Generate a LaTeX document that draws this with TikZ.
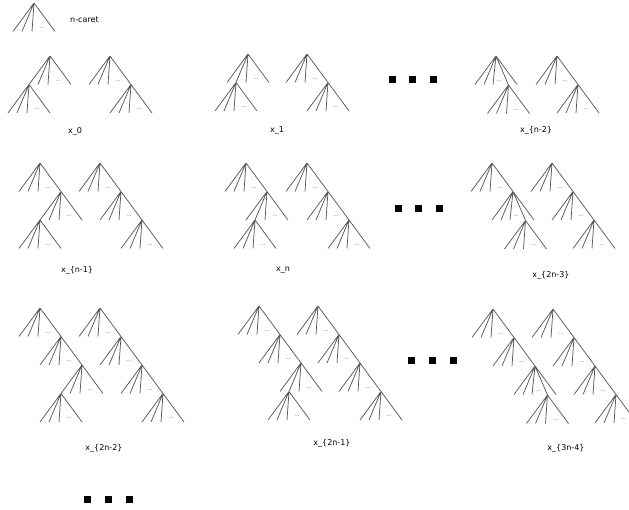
\documentclass[tikz,border=0pt]{standalone}
\usepackage{fontspec}
\setmainfont{DejaVu Sans}
\usetikzlibrary{positioning}

\begin{document}
\begin{tikzpicture}[x=1pt, y=-1pt,
  edge/.style={draw=black!65, line width=0.75pt},
  lbl/.style={font=\fontsize{8}{9}\selectfont, inner sep=0pt},
  gap/.style={font=\fontsize{5.5}{5.5}\selectfont, text=black!60, inner sep=0pt},
  blob/.style={fill=black, minimum size=7pt, inner sep=0pt},
  caret/.pic={
    \coordinate (-top) at (0,0);
    \coordinate (-l0) at (-21,28.5);
    \coordinate (-l1) at (-12,28.5);
    \coordinate (-l2) at (-2,28.5);
    \coordinate (-ln) at (21,28.5);
    \draw[edge] (-top) -- (-l0) (-top) -- (-l1) (-top) -- (-l2) (-top) -- (-ln);
    \node[gap] (-dots) at (8,25) {...};
  },
  caretm/.pic={
    \coordinate (-top) at (0,0);
    \coordinate (-l0) at (-21,28.5);
    \coordinate (-l1) at (-12,28.5);
    \coordinate (-l2) at (-3,28.5);
    \coordinate (-lm) at (12.5,29);
    \coordinate (-ln) at (21,28.5);
    \draw[edge] (-top) -- (-l0) (-top) -- (-l1) (-top) -- (-l2) (-top) -- (-lm) (-top) -- (-ln);
    \node[gap] (-dots) at (3,25) {...};
  }]
\useasboundingbox (0,0) rectangle (629,510);

% the n-caret
\pic (nc) at (34,3) {caret};
\node[lbl, anchor=west] (nctext) at (70,20) {n-caret};

% x_0
\pic (a) at (50,56) {caret};   \pic (a1) at (a-l0) {caret};
\pic (b) at (110,56) {caret};  \pic (b1) at (b-ln) {caret};
\node[lbl] (x0) at (75,131) {x\_0};
% x_1
\pic (c) at (248,54) {caret};  \pic (c1) at (c-l1) {caret};
\pic (d) at (307,54) {caret};  \pic (d1) at (d-ln) {caret};
\node[lbl] (x1) at (277,131) {x\_1};
% x_{n-2}
\pic (e) at (496,56) {caretm}; \pic (e1) at (e-lm) {caret};
\pic (f) at (557,56) {caret};  \pic (f1) at (f-ln) {caret};
\node[lbl] (xn2) at (536,130) {x\_\{n-2\}};

% x_{n-1}
\pic (g) at (40,163) {caret};  \pic (g1) at (g-ln) {caret};  \pic (g2) at (g1-l0) {caret};
\pic (h) at (100,163) {caret}; \pic (h1) at (h-ln) {caret};  \pic (h2) at (h1-ln) {caret};
\node[lbl] (xn1) at (77,270) {x\_\{n-1\}};
% x_n
\pic (i) at (246,163) {caret}; \pic (i1) at (i-ln) {caret};  \pic (i2) at (i1-l1) {caret};
\pic (j) at (307,163) {caret}; \pic (j1) at (j-ln) {caret};  \pic (j2) at (j1-ln) {caret};
\node[lbl] (xn) at (283,270) {x\_n};
% x_{2n-3}
\pic (k) at (492,163) {caret}; \pic (k1) at (k-ln) {caretm}; \pic (k2) at (k1-lm) {caret};
\pic (l) at (552,163) {caret}; \pic (l1) at (l-ln) {caret};  \pic (l2) at (l1-ln) {caret};
\node[lbl] (x2n3) at (551,275) {x\_\{2n-3\}};

% x_{2n-2}
\pic (m) at (40,308) {caret};  \pic (m1) at (m-ln) {caret};  \pic (m2) at (m1-ln) {caret};  \pic (m3) at (m2-l0) {caret};
\pic (n) at (100,308) {caret}; \pic (n1) at (n-ln) {caret};  \pic (n2) at (n1-ln) {caret};  \pic (n3) at (n2-ln) {caret};
\node[lbl] (x2n2) at (104,448) {x\_\{2n-2\}};
% x_{2n-1}
\pic (o) at (259,306) {caret}; \pic (o1) at (o-ln) {caret};  \pic (o2) at (o1-ln) {caret};  \pic (o3) at (o2-l1) {caret};
\pic (p) at (318,306) {caret}; \pic (p1) at (p-ln) {caret};  \pic (p2) at (p1-ln) {caret};  \pic (p3) at (p2-ln) {caret};
\node[lbl] (x2n1) at (332,443) {x\_\{2n-1\}};
% x_{3n-4}
\pic (q) at (493,309) {caret}; \pic (q1) at (q-ln) {caret};  \pic (q2) at (q1-ln) {caretm}; \pic (q3) at (q2-lm) {caret};
\pic (r) at (553,309) {caret}; \pic (r1) at (r-ln) {caret};  \pic (r2) at (r1-ln) {caret};  \pic (r3) at (r2-ln) {caret};
\node[lbl] (x3n4) at (566,448) {x\_\{3n-4\}};

% ellipsis squares
\foreach \i/\x in {1/392,2/412,3/433} \node[blob] (ra\i) at (\x,80) {};
\foreach \i/\x in {1/398,2/418,3/439} \node[blob] (rb\i) at (\x,209) {};
\foreach \i/\x in {1/411,2/432,3/453} \node[blob] (rc\i) at (\x,361) {};
\foreach \i/\x in {1/87,2/108,3/129} \node[blob] (rd\i) at (\x,499) {};
\end{tikzpicture}
\end{document}
